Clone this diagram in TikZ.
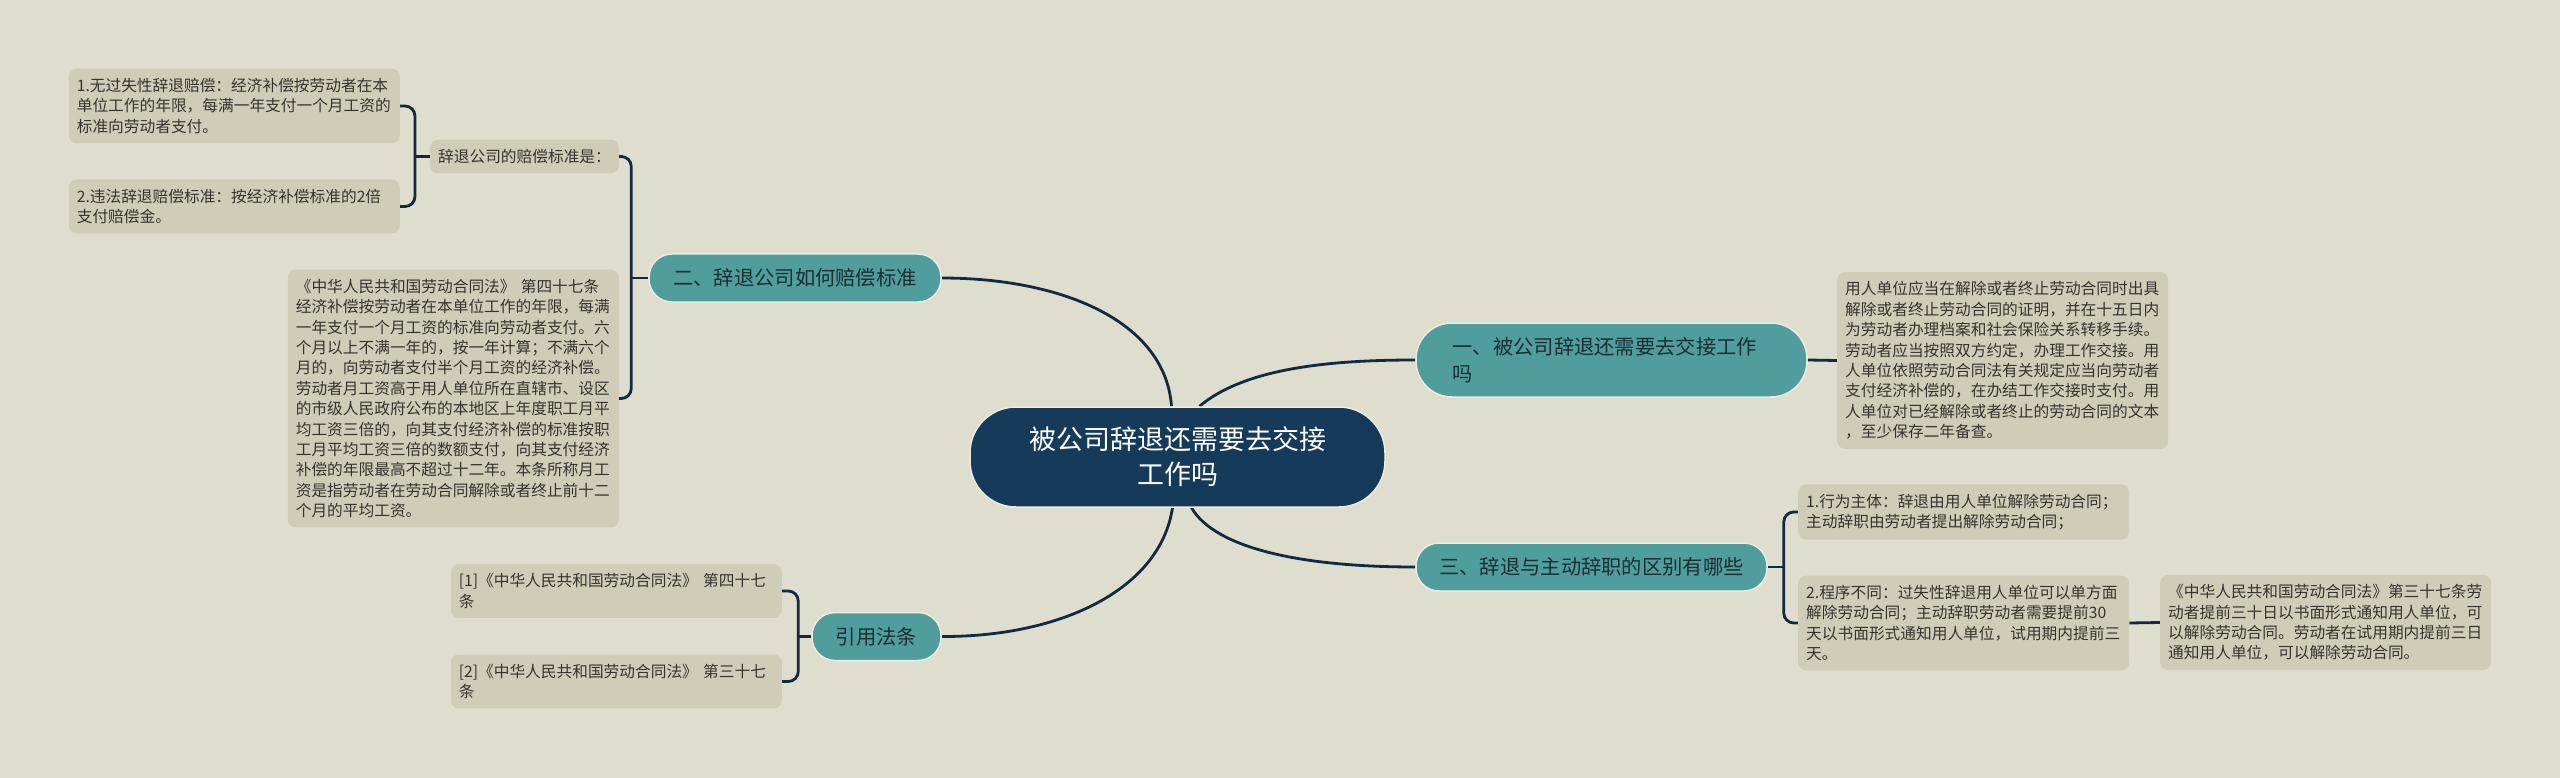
\documentclass[tikz,border=0pt]{standalone}
\usepackage{fontspec}
\setmainfont{Noto Sans CJK SC}
\usetikzlibrary{positioning,backgrounds}

\definecolor{bgc}{RGB}{223,221,205}
\definecolor{leafc}{RGB}{207,205,184}
\definecolor{leaftext}{RGB}{52,52,44}
\definecolor{tealc}{RGB}{79,157,157}
\definecolor{topictext}{RGB}{28,46,52}
\definecolor{navyc}{RGB}{22,59,90}
\definecolor{edgec}{RGB}{16,42,66}
\definecolor{rimc}{RGB}{236,236,226}

\begin{document}
\begin{tikzpicture}[x=1pt,y=-1pt]
   \tikzstyle{ln}=[draw=edgec,line width=2.8pt]
   \tikzstyle{note}=[fill=leafc,rounded corners=8pt,inner xsep=8pt,inner ysep=9.5pt,text=leaftext,font=\fontsize{15.7}{20.4}\selectfont]
   \tikzstyle{leaf}=[note,text width=315pt,align=left]
   \tikzstyle{topic}=[fill=tealc,draw=rimc,line width=1.5pt,rounded corners=23pt,minimum height=48pt,text=topictext,font=\fontsize{20.3}{27}\selectfont]
   \tikzstyle{root}=[fill=navyc,draw=rimc,line width=1.5pt,rounded corners=46pt,minimum width=415pt,minimum height=100pt,align=center,text=white,font=\fontsize{27}{35}\selectfont]

   \useasboundingbox (0,0) rectangle (2560,778);

   % centre and main topics
   \node (root) [root] at (1177.5,457) {被公司辞退还需要去交接\\工作吗};
   \node (t1) [topic,rounded corners=36pt,minimum height=74pt,text width=318pt,inner xsep=36.5pt,align=left] at (1611.5,360) {一、被公司辞退还需要去交接工作\\吗};
   \node (t2) [topic,minimum width=292pt] at (795,278) {二、辞退公司如何赔偿标准};
   \node (t3) [topic,minimum width=351pt] at (1591.5,567) {三、辞退与主动辞职的区别有哪些};
   \node (t4) [topic,minimum width=129pt] at (876.5,636.5) {引用法条};

   % left side
   \node (s1) [note] at (524.5,156.5) {辞退公司的赔偿标准是：};
   \node (a1) [leaf,anchor=east] at (400,106) {1.无过失性辞退赔偿：经济补偿按劳动者在本\\单位工作的年限，每满一年支付一个月工资的\\标准向劳动者支付。};
   \node (a2) [leaf,anchor=east] at (400,206.5) {2.违法辞退赔偿标准：按经济补偿标准的2倍\\支付赔偿金。};
   \node (s2) [leaf,anchor=east] at (619,398.5) {《中华人民共和国劳动合同法》 第四十七条\\经济补偿按劳动者在本单位工作的年限，每满\\一年支付一个月工资的标准向劳动者支付。六\\个月以上不满一年的，按一年计算；不满六个\\月的，向劳动者支付半个月工资的经济补偿。\\劳动者月工资高于用人单位所在直辖市、设区\\的市级人民政府公布的本地区上年度职工月平\\均工资三倍的，向其支付经济补偿的标准按职\\工月平均工资三倍的数额支付，向其支付经济\\补偿的年限最高不超过十二年。本条所称月工\\资是指劳动者在劳动合同解除或者终止前十二\\个月的平均工资。};
   \node (c1) [leaf,anchor=east] at (782,591) {[1]《中华人民共和国劳动合同法》 第四十七\\条};
   \node (c2) [leaf,anchor=east] at (782,681.5) {[2]《中华人民共和国劳动合同法》 第三十七\\条};

   % right side
   \node (r1) [leaf,anchor=west] at (1837,360.5) {用人单位应当在解除或者终止劳动合同时出具\\解除或者终止劳动合同的证明，并在十五日内\\为劳动者办理档案和社会保险关系转移手续。\\劳动者应当按照双方约定，办理工作交接。用\\人单位依照劳动合同法有关规定应当向劳动者\\支付经济补偿的，在办结工作交接时支付。用\\人单位对已经解除或者终止的劳动合同的文本\\，至少保存二年备查。};
   \node (d1) [leaf,anchor=west] at (1798,512) {1.行为主体：辞退由用人单位解除劳动合同；\\主动辞职由劳动者提出解除劳动合同；};
   \node (d2) [leaf,anchor=west] at (1798,623) {2.程序不同：过失性辞退用人单位可以单方面\\解除劳动合同；主动辞职劳动者需要提前30\\天以书面形式通知用人单位，试用期内提前三\\天。};
   \node (e1) [leaf,anchor=west] at (2160,622.5) {《中华人民共和国劳动合同法》第三十七条劳\\动者提前三十日以书面形式通知用人单位，可\\以解除劳动合同。劳动者在试用期内提前三日\\通知用人单位，可以解除劳动合同。};

   % bracket joints
   \coordinate [left=17pt of t2] (j2);
   \coordinate [left=15pt of s1] (js);
   \coordinate [left=13pt of t4] (j4);
   \coordinate [right=16pt of t3] (j3);

   \begin{scope}[on background layer]
      \fill [bgc] (0,0) rectangle (2560,778);
      \draw [ln] ([xshift=-6pt]root.north) .. controls (1165,320) and (1060,278) .. (t2.east);
      \draw [ln] ([xshift=22pt]root.north) .. controls (1245,368) and (1330,360) .. (t1.west);
      \draw [ln] ([xshift=14pt]root.south) .. controls (1215,548) and (1300,567) .. (t3.west);
      \draw [ln] ([xshift=-5pt]root.south) .. controls (1160,590) and (1060,637) .. (t4.east);
      \draw [ln] (t1.east) -- (r1.west);
      \draw [ln] (d2.east) -- (e1.west);
      \draw [ln] (t2.west) -- (j2);
      \draw [ln,rounded corners=10pt] (s1.east) -| (j2) |- (s2.east);
      \draw [ln] (s1.west) -- (js);
      \draw [ln,rounded corners=10pt] (a1.east) -| (js) |- (a2.east);
      \draw [ln] (t4.west) -- (j4);
      \draw [ln,rounded corners=10pt] (c1.east) -| (j4) |- (c2.east);
      \draw [ln] (t3.east) -- (j3);
      \draw [ln,rounded corners=10pt] (d1.west) -| (j3) |- (d2.west);
   \end{scope}
\end{tikzpicture}
\end{document}
